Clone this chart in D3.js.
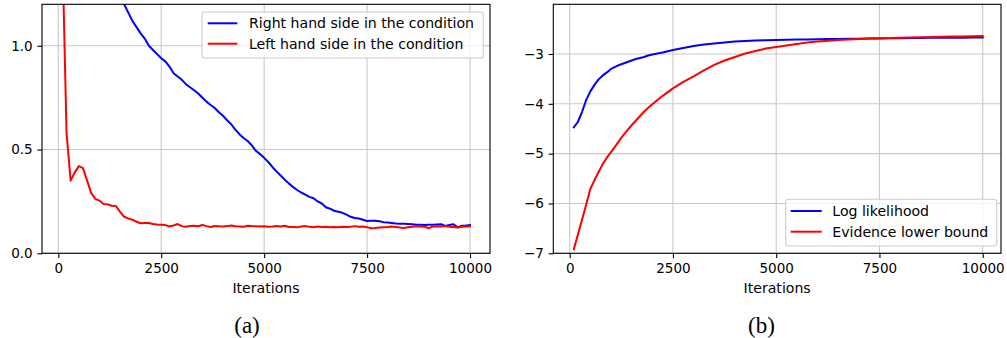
<!DOCTYPE html>
<html><head><meta charset="utf-8">
<script src="https://cdn.jsdelivr.net/npm/d3@7"></script>
<style>body{margin:0;background:#fff}svg{display:block}</style>
</head><body><svg id="c" width="1007" height="338"></svg>
<script>
// ---------- Data: panel (a) ----------
const itersA = [100,200,300,400,500,600,700,800,900,1000,1100,1200,1300,1400,1500,1600,1700,1800,1900,2000,
2100,2200,2300,2400,2500,2600,2700,2800,2900,3000,3100,3200,3300,3400,3500,3600,3700,3800,3900,4000,
4100,4200,4300,4400,4500,4600,4700,4800,4900,5000,5100,5200,5300,5400,5500,5600,5700,5800,5900,6000,
6100,6200,6300,6400,6500,6600,6700,6800,6900,7000,7100,7200,7300,7400,7500,7600,7700,7800,7900,8000,
8100,8200,8300,8400,8500,8600,8700,8800,8900,9000,9100,9200,9300,9400,9500,9600,9700,9800,9900,10000];
const rhsA = [1.72,1.69,1.66,1.63,1.60,1.57,1.54,1.51,1.48,1.45,1.42,1.39,1.35,1.31,1.26,1.20,1.16,1.12,1.09,1.06,
1.035,1.00,0.98,0.96,0.94,0.925,0.90,0.868,0.852,0.836,0.815,0.80,0.786,0.77,0.75,0.731,0.715,0.70,0.68,0.663,
0.641,0.622,0.596,0.574,0.556,0.541,0.52,0.494,0.478,0.46,0.44,0.416,0.395,0.375,0.355,0.337,0.32,0.305,0.293,0.283,
0.272,0.265,0.25,0.24,0.222,0.215,0.205,0.200,0.195,0.186,0.176,0.170,0.168,0.162,0.156,0.157,0.157,0.155,0.150,0.148,
0.146,0.144,0.143,0.142,0.141,0.140,0.138,0.137,0.136,0.137,0.138,0.139,0.140,0.132,0.136,0.140,0.125,0.133,0.134,0.136];
const lhsA = [1.45,0.58,0.35,0.39,0.42,0.41,0.35,0.29,0.262,0.254,0.238,0.236,0.229,0.228,0.20,0.176,0.168,0.162,0.152,0.145,
0.146,0.146,0.141,0.139,0.138,0.136,0.129,0.134,0.141,0.131,0.128,0.132,0.133,0.130,0.136,0.131,0.127,0.132,0.130,0.129,
0.131,0.134,0.130,0.129,0.128,0.133,0.131,0.130,0.129,0.130,0.128,0.129,0.131,0.129,0.133,0.127,0.127,0.125,0.129,0.131,
0.128,0.126,0.129,0.127,0.128,0.126,0.127,0.126,0.128,0.127,0.128,0.131,0.128,0.129,0.126,0.121,0.122,0.124,0.126,0.127,
0.129,0.127,0.124,0.122,0.125,0.128,0.130,0.129,0.128,0.121,0.129,0.130,0.129,0.131,0.128,0.127,0.124,0.128,0.129,0.130];
const namesA = ["Right hand side in the condition","Left hand side in the condition"];
const xTicksA = [0,2500,5000,7500,10000];
const yTicksA = [0.0,0.5,1.0];

// ---------- Data: panel (b) ----------
const itersB = [100,200,300,400,500,600,700,800,900,1000,1100,1200,1300,1400,1500,1600,1700,1800,1900,2000,
2250,2500,2750,3000,3250,3500,3750,4000,4250,4500,4750,5000,5250,5500,5750,6000,6250,6500,6750,7000,
7250,7500,7750,8000,8250,8500,8750,9000,9250,9500,9750,10000];
const loglikB = [-4.47,-4.36,-4.16,-3.92,-3.75,-3.62,-3.51,-3.43,-3.37,-3.30,-3.26,-3.22,-3.19,-3.16,-3.13,-3.10,-3.08,-3.06,-3.03,-3.01,
-2.97,-2.92,-2.88,-2.84,-2.81,-2.79,-2.77,-2.75,-2.74,-2.73,-2.725,-2.72,-2.715,-2.71,-2.707,-2.705,-2.70,-2.70,-2.695,-2.693,
-2.69,-2.69,-2.685,-2.683,-2.68,-2.678,-2.676,-2.675,-2.673,-2.672,-2.671,-2.67];
const elboB = [-6.92,-6.62,-6.32,-6.02,-5.71,-5.53,-5.37,-5.21,-5.08,-4.97,-4.86,-4.74,-4.63,-4.53,-4.43,-4.34,-4.25,-4.16,-4.08,-4.01,
-3.84,-3.69,-3.56,-3.45,-3.33,-3.22,-3.13,-3.06,-2.99,-2.94,-2.89,-2.86,-2.83,-2.80,-2.77,-2.75,-2.735,-2.72,-2.71,-2.70,
-2.69,-2.685,-2.68,-2.675,-2.67,-2.663,-2.66,-2.655,-2.65,-2.648,-2.642,-2.64];
const namesB = ["Log likelihood","Evidence lower bound"];
const xTicksB = [0,2500,5000,7500,10000];
const yTicksB = [-7,-6,-5,-4,-3];

const colors = ["#0000ff","#ff0000"];
const FONT = "DejaVu Sans, sans-serif";
const FS = 13.5;   // tick labels
const FL = 14.1;   // legend / axis label

const svg = d3.select("#c");

function panel(cfg){
  const {L,R,T,B,xdom,ydom,xt,yt,yfmt,iters,series,names,legend,caption,capX,id} = cfg;
  const x = d3.scaleLinear().domain(xdom).range([L,R]);
  const y = d3.scaleLinear().domain(ydom).range([B,T]);
  const g = svg.append("g");
  // grid
  g.append("g").selectAll("line").data(xt).join("line")
    .attr("x1",d=>x(d)).attr("x2",d=>x(d)).attr("y1",T).attr("y2",B)
    .attr("stroke","#c8c8c8").attr("stroke-width",1.1);
  g.append("g").selectAll("line").data(yt).join("line")
    .attr("y1",d=>y(d)).attr("y2",d=>y(d)).attr("x1",L).attr("x2",R)
    .attr("stroke","#c8c8c8").attr("stroke-width",1.1);
  // clip
  svg.append("clipPath").attr("id",id).append("rect")
    .attr("x",L).attr("y",T).attr("width",R-L).attr("height",B-T);
  const line = d3.line().x((d,i)=>x(iters[i])).y(d=>y(d));
  series.forEach((s,k)=>{
    g.append("path").attr("d",line(s)).attr("fill","none")
      .attr("stroke",colors[k]).attr("stroke-width",2)
      .attr("stroke-linejoin","round").attr("stroke-linecap","square")
      .attr("clip-path",`url(#${id})`);
  });
  // axes
  const xa = g.append("g").attr("transform",`translate(0,${B})`)
    .call(d3.axisBottom(x).tickValues(xt).tickFormat(d3.format("d")).tickSize(4.7).tickPadding(5.2));
  const ya = g.append("g").attr("transform",`translate(${L},0)`)
    .call(d3.axisLeft(y).tickValues(yt).tickFormat(yfmt).tickSize(4.7).tickPadding(4.7));
  [xa,ya].forEach(a=>{
    a.select(".domain").remove();
    a.selectAll(".tick line").attr("stroke","#000").attr("stroke-width",1.1);
    a.selectAll(".tick text").attr("fill","#000").style("font-family",FONT).style("font-size",FS+"px");
  });
  // spines
  g.append("rect").attr("x",L).attr("y",T).attr("width",R-L).attr("height",B-T)
    .attr("fill","none").attr("stroke","#000").attr("stroke-width",1.1);
  // axis label
  g.append("text").attr("x",(L+R)/2).attr("y",293).attr("text-anchor","middle")
    .style("font-family",FONT).style("font-size",FL+"px").text("Iterations");
  // legend
  const lg = g.append("g");
  lg.append("rect").attr("x",legend.x0).attr("y",legend.y0)
    .attr("width",legend.x1-legend.x0).attr("height",legend.y1-legend.y0)
    .attr("rx",2.7).attr("fill","#fff").attr("fill-opacity",0.8)
    .attr("stroke","#cccccc").attr("stroke-width",1.1);
  names.forEach((n,k)=>{
    const yy = legend.rows[k];
    lg.append("line").attr("x1",legend.hx0).attr("x2",legend.hx1).attr("y1",yy).attr("y2",yy)
      .attr("stroke",colors[k]).attr("stroke-width",2);
    lg.append("text").attr("x",legend.tx).attr("y",yy).attr("dy","0.36em")
      .style("font-family",FONT).style("font-size",FL+"px").text(n);
  });
  // caption
  svg.append("text").attr("x",capX).attr("y",333).attr("text-anchor","middle")
    .style("font-family","Liberation Serif, Times New Roman, serif").style("font-size","23px").text(caption);
}

panel({id:"clipA",L:42,R:490,T:4.3,B:253.3,xdom:[-396,10486],ydom:[0,1.2],
  xt:xTicksA,yt:yTicksA,yfmt:d3.format(".1f"),iters:itersA,series:[rhsA,lhsA],names:namesA,
  legend:{x0:202,x1:483.3,y0:12,y1:58,hx0:207.7,hx1:237.3,tx:249,rows:[23.3,43.7]},
  caption:"(a)",capX:247});
panel({id:"clipB",L:553.3,R:1001,T:4.3,B:253.3,xdom:[-397,10443],ydom:[-7,-2.003],
  xt:xTicksB,yt:yTicksB,yfmt:d=>(d<0?"\u2212":"")+Math.abs(d),iters:itersB,series:[loglikB,elboB],names:namesB,
  legend:{x0:785.7,x1:996.7,y0:199.3,y1:246,hx0:790.7,hx1:821.7,tx:832.3,rows:[211,231.7]},
  caption:"(b)",capX:761.5});
</script></body></html>
